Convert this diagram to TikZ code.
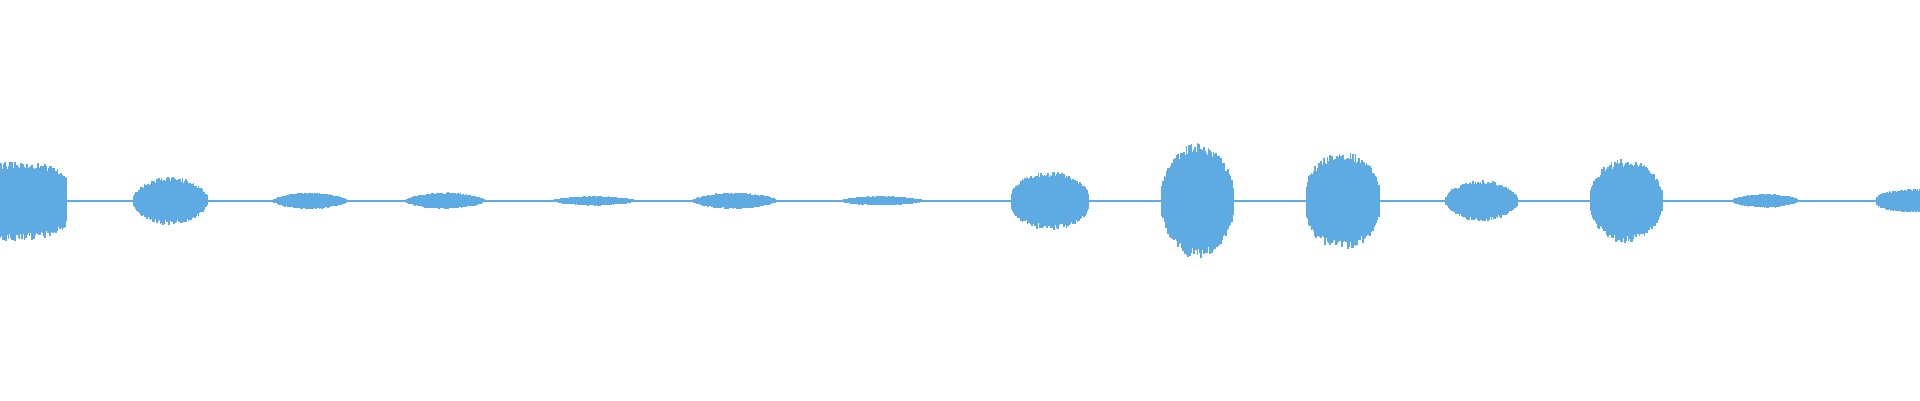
\documentclass[tikz,border=0pt]{standalone}
\definecolor{wave}{RGB}{93,171,226}
\begin{document}
\begin{tikzpicture}[x=1pt,y=1pt,wv/.style={draw=wave,line width=1.4pt}]
\useasboundingbox (0,0) rectangle (1568,327);
\pgfmathsetseed{7}
\draw[wave,line width=1.6pt] (0,163) -- (1568,163);
\foreach \a/\b/\h/\p in {-30/55/33/0.15, 108/170/20/0.5, 222/285/7/0.6, 330/397/7/0.6, 450/520/4/0.6, 565/635/7/0.6, 685/755/4/0.6, 825/890/24/0.4, 948/1008/48/0.45, 1066/1127/40/0.35, 1180/1240/17/0.5, 1298/1358/35/0.45, 1414/1470/6/0.6, 1532/1600/10/0.3}{
  \foreach \x in {\a,...,\b}{
    \pgfmathsetmacro\e{\h*(sin(180*(\x-\a)/(\b-\a)))^\p}
    \pgfmathsetmacro\u{\e*(0.8+0.2*rnd)}
    \pgfmathsetmacro\d{\e*(0.8+0.2*rnd)}
    \ifdim\x pt>-1pt \draw[wv] (\x,163+\u) -- (\x,163-\d);\fi
  }
}
\end{tikzpicture}
\end{document}
